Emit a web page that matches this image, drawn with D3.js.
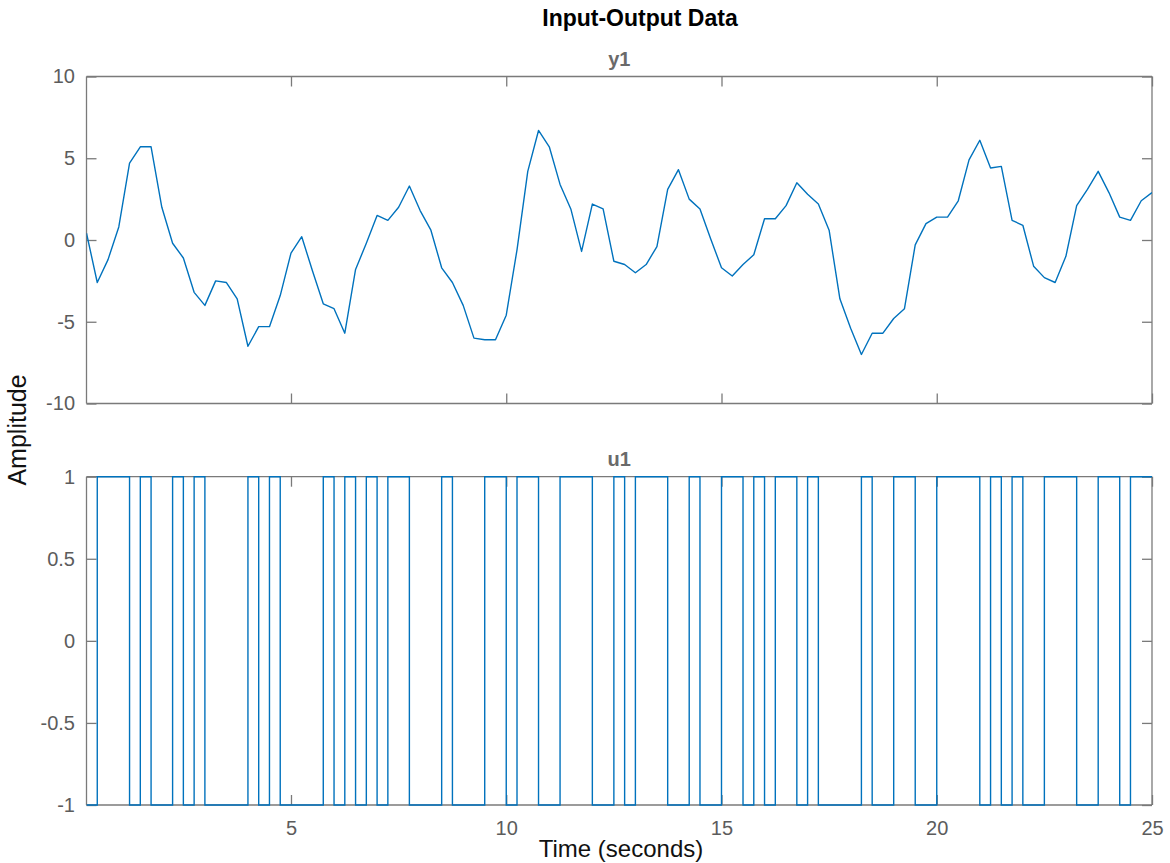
<!DOCTYPE html>
<html>
<head>
<meta charset="utf-8">
<script src="https://cdn.jsdelivr.net/npm/d3@7"></script>
<style>
  html, body { margin: 0; padding: 0; background: #fff; }
  svg { display: block; }
  text { font-family: "Liberation Sans", Arial, Helvetica, sans-serif; }
</style>
</head>
<body>
<svg id="chart" width="1170" height="863"></svg>
<script>
// ---- data ----
const chartTitle = "Input-Output Data";
const outputName = "y1";
const inputName = "u1";
const xLabel = "Time (seconds)";
const yLabel = "Amplitude";
const sampleTime = 0.25;   // seconds between samples
const startTime = 0.25;    // time of the first sample
const xTicks = [5, 10, 15, 20, 25];
const yTicksOut = [10, 5, 0, -5, -10];
const yTicksIn = [1, 0.5, 0, -0.5, -1];
const xDomain = [0.25, 25];
const yDomainOut = [-10, 10];
const yDomainIn = [-1, 1];

const y1 = [
  0.42, -2.6, -1.2, 0.8, 4.7, 5.7, 5.7, 2.0, -0.2, -1.1,
  -3.2, -4.0, -2.5, -2.6, -3.6, -6.5, -5.3, -5.3, -3.4, -0.8,
  0.2, -1.9, -3.9, -4.2, -5.7, -1.8, -0.2, 1.5, 1.2, 2.0,
  3.3, 1.8, 0.6, -1.7, -2.6, -4.0, -6.0, -6.1, -6.1, -4.6,
  -0.6, 4.2, 6.7, 5.7, 3.4, 1.9, -0.7, 2.2, 1.9, -1.3,
  -1.5, -2.0, -1.5, -0.4, 3.1, 4.3, 2.5, 1.9, 0.06, -1.7,
  -2.2, -1.5, -0.9, 1.3, 1.3, 2.1, 3.5, 2.8, 2.2, 0.6,
  -3.6, -5.4, -7.0, -5.7, -5.7, -4.8, -4.2, -0.3, 1.0, 1.4,
  1.4, 2.4, 4.9, 6.1, 4.4, 4.5, 1.2, 0.9, -1.6, -2.3,
  -2.6, -1.0, 2.1, 3.1, 4.2, 2.9, 1.4, 1.2, 2.4, 2.9
];

const u1 = [
  -1, 1, 1, 1, -1, 1, -1, -1, 1, -1,
  1, -1, -1, -1, -1, 1, -1, 1, -1, -1,
  -1, -1, 1, -1, 1, -1, 1, -1, 1, 1,
  -1, -1, -1, 1, -1, -1, -1, 1, 1, -1,
  1, 1, -1, -1, 1, 1, 1, -1, -1, 1,
  -1, 1, 1, 1, -1, -1, 1, -1, -1, 1,
  1, -1, 1, -1, 1, 1, -1, 1, -1, -1,
  -1, -1, 1, -1, -1, 1, 1, -1, -1, 1,
  1, 1, 1, -1, 1, -1, 1, -1, -1, 1,
  1, 1, -1, -1, 1, 1, -1, 1, 1, 1
];

// ---- layout ----
const svg = d3.select("#chart");
const left = 86.5, right = 1152;
const topPanel = { top: 76.5, bottom: 403.5 };
const botPanel = { top: 476.7, bottom: 805 };
const axisColor = "#7a7a7a";
const labelColor = "#5c5c5c";
const lineColor = "#0072BD";
const tickLen = 10;
const fmt = d => String(d);   // plain hyphen-minus like the original

const x = d3.scaleLinear().domain(xDomain).range([left, right]);
const yOut = d3.scaleLinear().domain(yDomainOut).range([topPanel.bottom, topPanel.top]);
const yIn = d3.scaleLinear().domain(yDomainIn).range([botPanel.bottom, botPanel.top]);

const timeOf = i => startTime + sampleTime * i;

function drawPanel(p, yScale, yTicks, name, showXLabels, clipId) {
  const g = svg.append("g");
  svg.append("defs").append("clipPath").attr("id", clipId)
    .append("rect").attr("x", left).attr("y", p.top - 3)
    .attr("width", right - left).attr("height", p.bottom - p.top + 6);

  const axL = d3.axisLeft(yScale).tickValues(yTicks).tickSize(-tickLen).tickPadding(11.5).tickFormat(fmt);
  const axR = d3.axisRight(yScale).tickValues(yTicks).tickSize(-tickLen).tickFormat("");
  const axB = d3.axisBottom(x).tickValues(xTicks).tickSize(-tickLen).tickPadding(16)
    .tickFormat(showXLabels ? fmt : "");
  const axT = d3.axisTop(x).tickValues(xTicks).tickSize(-tickLen).tickFormat("");

  const gl = g.append("g").attr("transform", `translate(${left},0)`).call(axL);
  const gr = g.append("g").attr("transform", `translate(${right},0)`).call(axR);
  const gb = g.append("g").attr("transform", `translate(0,${p.bottom})`).call(axB);
  const gt = g.append("g").attr("transform", `translate(0,${p.top})`).call(axT);
  [gl, gr, gb, gt].forEach(a => {
    a.select(".domain").attr("stroke", axisColor).attr("stroke-width", 1.3);
    a.selectAll(".tick line").attr("stroke", axisColor).attr("stroke-width", 1.3);
    a.selectAll(".tick text").attr("fill", labelColor)
      .style("font-size", "20px").style("font-family", '"Liberation Sans", Arial, sans-serif');
  });
  gl.select(".domain").attr("d", `M0,${p.top}V${p.bottom}`);
  gr.select(".domain").attr("d", `M0,${p.top}V${p.bottom}`);
  gb.select(".domain").attr("d", `M${left},0H${right}`);
  gt.select(".domain").attr("d", `M${left},0H${right}`);

  svg.append("text").attr("x", (left + right) / 2).attr("y", p.top - 11)
    .attr("text-anchor", "middle").attr("fill", "#6a6a6a")
    .style("font-size", "20px").style("font-weight", "bold").text(name);

  return svg.append("g").attr("clip-path", `url(#${clipId})`);
}

// top panel: output y1
const gOut = drawPanel(topPanel, yOut, yTicksOut, outputName, false, "clipOut");
const outLine = d3.line().x((d, i) => x(timeOf(i))).y(d => yOut(d));
gOut.append("path").datum(y1)
  .attr("fill", "none").attr("stroke", lineColor).attr("stroke-width", 1.4)
  .attr("stroke-linejoin", "round").attr("d", outLine);

// bottom panel: input u1 (zero-order hold)
const gIn = drawPanel(botPanel, yIn, yTicksIn, inputName, true, "clipIn");
const stairPts = u1.map((v, i) => [timeOf(i), v]);
stairPts.push([timeOf(u1.length), u1[u1.length - 1]]);
const inLine = d3.line().x(d => x(d[0])).y(d => yIn(d[1])).curve(d3.curveStepAfter);
gIn.append("path").datum(stairPts)
  .attr("fill", "none").attr("stroke", lineColor).attr("stroke-width", 1.4)
  .attr("d", inLine);

// figure title and shared labels
svg.append("text").attr("x", 640).attr("y", 26)
  .attr("text-anchor", "middle").attr("fill", "#000")
  .style("font-size", "23px").style("font-weight", "bold").text(chartTitle);

svg.append("text").attr("x", 621).attr("y", 857)
  .attr("text-anchor", "middle").attr("fill", "#111")
  .style("font-size", "24px").text(xLabel);

svg.append("text")
  .attr("transform", `translate(26,430) rotate(-90)`)
  .attr("text-anchor", "middle").attr("fill", "#111")
  .style("font-size", "25px").text(yLabel);
</script>
</body>
</html>
